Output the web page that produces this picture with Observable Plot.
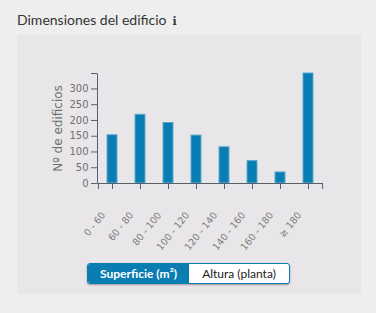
<!DOCTYPE html>
<html>
<head>
<meta charset="utf-8">
<script src="https://cdn.jsdelivr.net/npm/d3@7"></script>
<script src="https://cdn.jsdelivr.net/npm/@observablehq/plot@0.6"></script>
<style>
  html, body { margin: 0; padding: 0; background: #eeeeee; width: 376px; height: 313px; overflow: hidden; font-family: Lato, sans-serif; }
  #title { position: absolute; left: 17px; top: 11px; font-size: 14px; color: #333; white-space: nowrap; }
  #title .info { font-family: "DejaVu Serif", serif; font-weight: bold; font-size: 11px; margin-left: 6px; color: #333; }
  #panel { position: absolute; left: 17px; top: 35px; width: 344px; height: 259px; background: #e8e6e8; }
  #chart { position: absolute; left: 0; top: 0; }
  #chart svg { overflow: visible; }
  #chart g[aria-label="y-axis label"] { font-size: 12px; }
  #toggle { position: absolute; left: 70px; top: 228px; width: 203px; height: 21px; display: flex; box-sizing: border-box;
            border: 1px solid #0a7db2; border-radius: 3px; overflow: hidden; box-shadow: 0 1px 2px rgba(0,0,0,0.35); background: #fff; }
  #toggle div { display: flex; align-items: center; justify-content: center; font-size: 12px; }
  #toggle .on { width: 101px; background: #0a7db2; color: #fff; font-weight: bold; }
  #toggle .off { flex: 1; color: #222; }
</style>
</head>
<body>
<div id="title">Dimensiones del edificio<span class="info">i</span></div>
<div id="panel">
  <div id="chart"></div>
  <div id="toggle"><div class="on">Superficie (m²)</div><div class="off">Altura (planta)</div></div>
</div>
<script>
// Building surface ranges (m²) and number of buildings in each range
const ranges = ["0 - 60", "60 - 80", "80 - 100", "100 - 120", "120 - 140", "140 - 160", "160 - 180", "≥ 180"];
const counts = [153, 218, 192, 152, 115, 71, 35, 349];
const yTicks = [0, 50, 100, 150, 200, 250, 300];

const rows = ranges.map((r, i) => ({range: r, count: counts[i]}));
const maxCount = d3.max(counts);

const W = 344, H = 220;
const mL = 80, mR = 39, mT = 38, mB = 72;
const plotW = W - mL - mR, plotH = H - mT - mB;
const step = plotW / ranges.length;
const axisColor = "#56626b";

const chart = Plot.plot({
  width: W,
  height: H,
  marginLeft: mL,
  marginRight: mR,
  marginTop: mT,
  marginBottom: mB,
  style: {background: "transparent", fontFamily: "DejaVu Sans, sans-serif", fontSize: "10px", color: "#707070"},
  x: {domain: ranges, paddingInner: 0.645, paddingOuter: 0.3225},
  y: {domain: [0, maxCount]},
  marks: [
    Plot.barY(rows, {x: "range", y: "count", fill: "#0a7db2", stroke: "#5aa9d2", strokeWidth: 1}),
    // left and bottom axis lines
    Plot.frame({stroke: axisColor, strokeDasharray: `0 ${plotW + plotH} ${plotW + plotH}`}),
    // y axis: ticks, labels, and an unlabelled outer tick at the top of the domain
    Plot.axisY([...yTicks, maxCount], {
      tickSize: 6, tickPadding: 3, stroke: axisColor,
      tickFormat: d => d > yTicks[yTicks.length - 1] ? "" : d,
      label: "Nº de edificios", labelAnchor: "center", labelArrow: "none", labelOffset: 44
    }),
    // x axis ticks at band centres
    Plot.axisX({tickSize: 6, stroke: axisColor, tickFormat: () => "", label: null}),
    // outer ticks at both ends of the x axis
    Plot.axisX([ranges[0]], {tickSize: 6, stroke: axisColor, tickFormat: () => "", label: null, dx: -step / 2}),
    Plot.axisX([ranges[ranges.length - 1]], {tickSize: 6, stroke: axisColor, tickFormat: () => "", label: null, dx: step / 2}),
    // rotated range labels
    Plot.axisX({tickSize: 0, tickRotate: -51, tickPadding: 30, dx: -9, fill: "#7a7a7a", fontSize: 9.5, label: null})
  ]
});
document.getElementById("chart").append(chart);
</script>
</body>
</html>
